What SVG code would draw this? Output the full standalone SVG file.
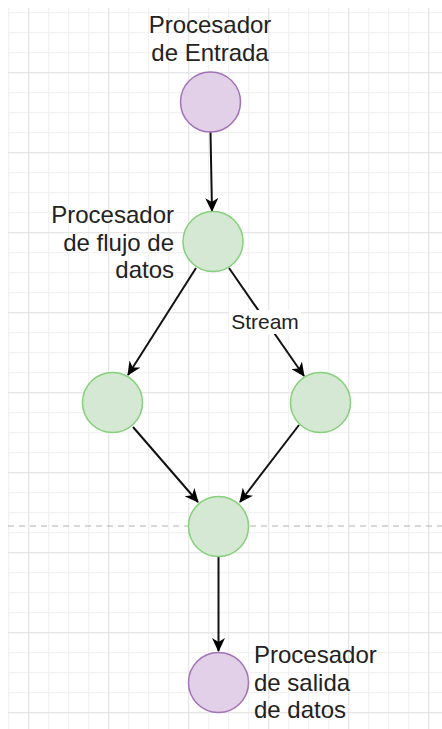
<svg xmlns="http://www.w3.org/2000/svg" width="442" height="729" viewBox="0 0 442 729">
<defs>
<pattern id="minor" x="8" y="12" width="20" height="20" patternUnits="userSpaceOnUse">
<path d="M0,0.5 H20 M0.5,0 V20" fill="none" stroke="#f2f2f2" stroke-width="1.5"/>
</pattern>
<pattern id="major" x="28" y="72" width="80" height="80" patternUnits="userSpaceOnUse">
<path d="M0,0.5 H80 M0.5,0 V80" fill="none" stroke="#e6e6e6" stroke-width="1.5"/>
</pattern>
<marker id="arr" viewBox="0 0 14 13" refX="13" refY="6.5" markerWidth="14" markerHeight="13" markerUnits="userSpaceOnUse" orient="auto">
<path d="M0,0 L14,6.5 L0,13 L4,6.5 z" fill="#000"/>
</marker>
<style>
.grn{fill:#d5e8d4;stroke:#86d07c;stroke-width:1.5}
.pur{fill:#e1d0e7;stroke:#a373b6;stroke-width:1.5}
.t{font-family:"Liberation Sans",Arial,sans-serif;font-size:24px;fill:#222}
.e{fill:none;stroke:#111;stroke-width:2;marker-end:url(#arr)}
</style>
</defs>
<rect width="442" height="729" fill="#fff"/>
<rect x="8" y="8" width="434" height="721" fill="url(#minor)"/>
<rect x="8" y="8" width="434" height="721" fill="url(#major)"/>
<line x1="8" y1="526" x2="442" y2="526" stroke="#b0b0b0" stroke-width="1" stroke-dasharray="6,5"/>
<g id="connectors">
<line class="e" x1="210.5" y1="132" x2="212" y2="211"/>
<line class="e" x1="196" y1="268" x2="128" y2="375"/>
<line class="e" x1="229" y1="268" x2="304" y2="376"/>
<line class="e" x1="133" y1="427" x2="198" y2="502"/>
<line class="e" x1="299" y1="425" x2="240" y2="502"/>
<line class="e" x1="218.5" y1="557" x2="218.5" y2="651"/>
<rect x="229" y="310" width="72" height="24" fill="#fff"/>
<text x="265" y="329" text-anchor="middle" class="t" style="font-size:21px">Stream</text>
</g>
<g id="entrada">
<circle class="pur" cx="210.5" cy="102" r="30"/>
<text class="t" x="210" y="33" text-anchor="middle">Procesador</text>
<text class="t" x="210" y="61" text-anchor="middle">de Entrada</text>
</g>
<g id="flujo">
<circle class="grn" cx="213" cy="241.5" r="30"/>
<text class="t" x="174" y="223" text-anchor="end">Procesador</text>
<text class="t" x="174" y="250.5" text-anchor="end">de flujo de</text>
<text class="t" x="174" y="278" text-anchor="end">datos</text>
</g>
<g id="izq">
<circle class="grn" cx="112.5" cy="402.5" r="30"/>
</g>
<g id="der">
<circle class="grn" cx="320.5" cy="402.5" r="30"/>
</g>
<g id="medio">
<circle class="grn" cx="218.5" cy="526.5" r="30"/>
</g>
<g id="salida">
<circle class="pur" cx="218.5" cy="682.5" r="30"/>
<text class="t" x="254" y="663">Procesador</text>
<text class="t" x="254" y="690.5">de salida</text>
<text class="t" x="254" y="718">de datos</text>
</g>
</svg>
